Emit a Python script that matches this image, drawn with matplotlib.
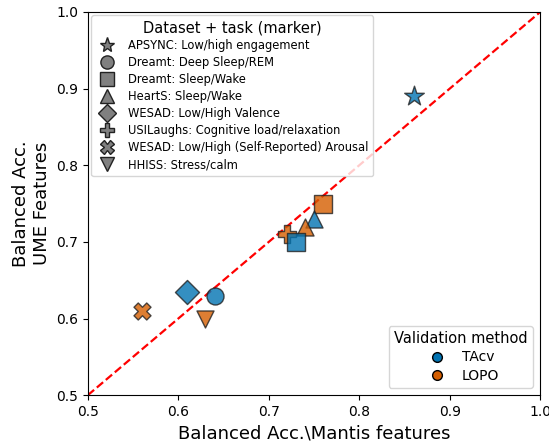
import matplotlib
matplotlib.use("Agg")
import matplotlib.pyplot as plt
from matplotlib.lines import Line2D

# dataset/task labels and markers
tasks = ["APSYNC: Low/high engagement", "Dreamt: Deep Sleep/REM", "Dreamt: Sleep/Wake",
         "HeartS: Sleep/Wake", "WESAD: Low/High Valence", "USILaughs: Cognitive load/relaxation",
         "WESAD: Low/High (Self-Reported) Arousal", "HHISS: Stress/calm"]
markers = ["*", "o", "s", "^", "D", "P", "X", "v"]

# points: task index, validation method, mantis acc, ume acc
pt_task = [0, 2, 3, 3, 5, 2, 4, 1, 7, 6]
pt_method = ["TAcv", "LOPO", "TAcv", "LOPO", "LOPO", "TAcv", "TAcv", "TAcv", "LOPO", "LOPO"]
mantis_acc = [0.86, 0.76, 0.75, 0.74, 0.72, 0.73, 0.61, 0.64, 0.63, 0.56]
ume_acc = [0.89, 0.75, 0.73, 0.72, 0.71, 0.70, 0.635, 0.63, 0.60, 0.61]

methods = ["TAcv", "LOPO"]
colors = {"TAcv": "#0173b2", "LOPO": "#d55e00"}

fig, ax = plt.subplots(figsize=(5.49, 4.44), dpi=100)
fig.subplots_adjust(left=0.16, right=0.984, top=0.973, bottom=0.11)

ax.plot([0.5, 1.0], [0.5, 1.0], "r--", lw=1.6, zorder=1)

for i in range(len(mantis_acc)):
    m = markers[pt_task[i]]
    s = 220 if m == "*" else 150
    ax.scatter(mantis_acc[i], ume_acc[i], marker=m, s=s, color=colors[pt_method[i]],
               alpha=0.8, edgecolor="#222222", linewidth=1.0, zorder=3)

ax.set_xlim(0.5, 1.0)
ax.set_ylim(0.5, 1.0)
ax.set_xlabel("Balanced Acc.\\Mantis features", fontsize=13)
ax.set_ylabel("Balanced Acc.\nUME Features", fontsize=13)
ax.tick_params(labelsize=10)

h1 = [Line2D([], [], marker=m, linestyle="", color="gray", markeredgecolor="#222222",
             markersize=11 if m == "*" else 9.5) for m in markers]
leg1 = ax.legend(h1, tasks, title="Dataset + task (marker)", loc="upper left",
                 fontsize=8.3, title_fontsize=10.5, handletextpad=0.8, labelspacing=0.35,
                 borderaxespad=0.3)
ax.add_artist(leg1)

h2 = [Line2D([], [], marker="o", linestyle="", color=colors[k], markeredgecolor="black",
             markersize=7) for k in methods]
ax.legend(h2, methods, title="Validation method", loc="lower right", fontsize=10,
          title_fontsize=10.5, labelspacing=0.3)

fig.savefig("out.png", dpi=100)
